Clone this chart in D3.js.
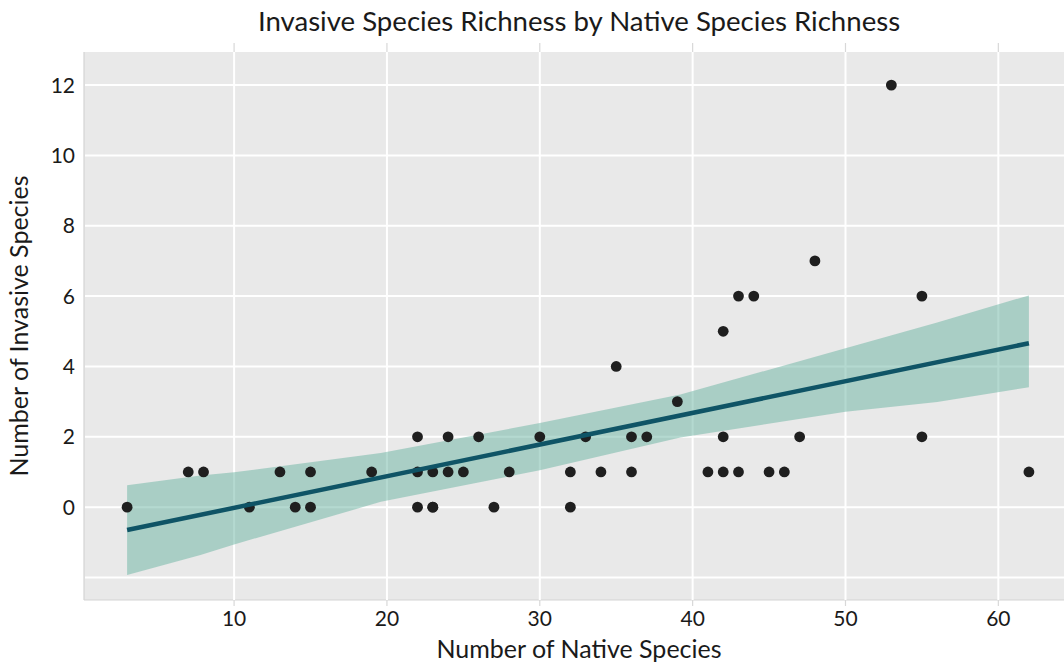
<!DOCTYPE html>
<html>
<head>
<meta charset="utf-8">
<script src="https://cdn.jsdelivr.net/npm/d3@7"></script>
<style>
  body { margin: 0; background: #fff; }
  text { font-family: Futura, "Century Gothic", Lato, sans-serif; fill: #1a1a1a; }
</style>
</head>
<body>
<div id="chart"></div>
<script>
// points: native species (x) vs invasive species (y)
const nativeCount = [3, 11, 14, 15, 22, 23, 23, 27, 32,
  7, 8, 13, 15, 19, 22, 23, 24, 25, 28, 32, 34, 36, 41, 42, 43, 45, 46, 62,
  22, 24, 26, 30, 33, 36, 37, 42, 47, 55,
  39, 35, 42, 43, 44, 55, 48, 53];
const invasiveCount = [0, 0, 0, 0, 0, 0, 0, 0, 0,
  1, 1, 1, 1, 1, 1, 1, 1, 1, 1, 1, 1, 1, 1, 1, 1, 1, 1, 1,
  2, 2, 2, 2, 2, 2, 2, 2, 2, 2,
  3, 4, 5, 6, 6, 6, 7, 12];

// fitted line and confidence band
const fitX = [3, 62];
const fitY = [-0.65, 4.66];
const bandX = [3, 7.8, 10, 19.6, 30, 39.2, 50, 56, 62];
const bandLow = [-1.93, -1.36, -1.06, 0.15, 1.05, 1.98, 2.71, 2.99, 3.41];
const bandHigh = [0.62, 0.9, 0.99, 1.54, 2.39, 3.2, 4.52, 5.25, 6.02];

const xTicks = [10, 20, 30, 40, 50, 60];
const yGrid = [-2, 0, 2, 4, 6, 8, 10, 12];
const yTicks = [0, 2, 4, 6, 8, 10, 12];

const w = 1064, h = 665;
const padL = 84, padR = 1074, padT = 52, padB = 600;

const svg = d3.select('#chart').append('svg')
  .attr('width', w).attr('height', h);

const x = d3.scaleLinear().domain([0.18, 64.95]).range([padL, padR]);
const y = d3.scaleLinear().domain([-2.64, 12.94]).range([padB, padT]);

// panel
svg.append('rect')
  .attr('x', padL).attr('y', padT)
  .attr('width', padR - padL).attr('height', padB - padT)
  .attr('fill', '#e9e9e9');

// border left / bottom
svg.append('line').attr('x1', padL).attr('x2', padL).attr('y1', padT).attr('y2', padB)
  .attr('stroke', '#d4d4d4').attr('stroke-width', 1.2);
svg.append('line').attr('x1', padL).attr('x2', padR).attr('y1', padB).attr('y2', padB)
  .attr('stroke', '#d4d4d4').attr('stroke-width', 1.2);

// grid
svg.append('g').selectAll('line').data(yGrid).enter().append('line')
  .attr('x1', padL + 1).attr('x2', padR)
  .attr('y1', d => y(d)).attr('y2', d => y(d))
  .attr('stroke', '#fff').attr('stroke-width', 2);
svg.append('g').selectAll('line').data(xTicks).enter().append('line')
  .attr('x1', d => x(d)).attr('x2', d => x(d))
  .attr('y1', padT).attr('y2', padB)
  .attr('stroke', '#fff').attr('stroke-width', 2);

// small ticks above and below the panel
svg.append('g').selectAll('line').data(xTicks).enter().append('line')
  .attr('x1', d => x(d)).attr('x2', d => x(d))
  .attr('y1', padT - 9).attr('y2', padT)
  .attr('stroke', '#d8d8d8').attr('stroke-width', 1.2);
svg.append('g').selectAll('line').data(xTicks).enter().append('line')
  .attr('x1', d => x(d)).attr('x2', d => x(d))
  .attr('y1', padB).attr('y2', padB + 6)
  .attr('stroke', '#d8d8d8').attr('stroke-width', 1.2);

// confidence band
const bandData = bandX.map((d, i) => ({ x: d, lo: bandLow[i], hi: bandHigh[i] }));
svg.append('path')
  .datum(bandData)
  .attr('d', d3.area().x(d => x(d.x)).y0(d => y(d.lo)).y1(d => y(d.hi)))
  .attr('fill', '#69b3a2').attr('fill-opacity', 0.5);

// points
const pts = nativeCount.map((d, i) => ({ x: d, y: invasiveCount[i] }));
svg.append('g').selectAll('circle').data(pts).enter().append('circle')
  .attr('cx', d => x(d.x)).attr('cy', d => y(d.y))
  .attr('r', 5.4)
  .attr('fill', '#1f1f1f');

// fitted line
svg.append('path')
  .datum(fitX.map((d, i) => ({ x: d, y: fitY[i] })))
  .attr('d', d3.line().x(d => x(d.x)).y(d => y(d.y)))
  .attr('fill', 'none')
  .attr('stroke', '#0f5466').attr('stroke-width', 4.5);

// tick labels
svg.append('g').selectAll('text').data(xTicks).enter().append('text')
  .attr('x', d => x(d)).attr('y', 626)
  .attr('text-anchor', 'middle')
  .style('font-size', '21px')
  .text(d => d);
svg.append('g').selectAll('text').data(yTicks).enter().append('text')
  .attr('x', 75).attr('y', d => y(d))
  .attr('dy', '0.36em')
  .attr('text-anchor', 'end')
  .style('font-size', '21px')
  .text(d => d);

// titles
svg.append('text')
  .attr('x', 579).attr('y', 31)
  .attr('text-anchor', 'middle')
  .style('font-size', '27.6px')
  .text('Invasive Species Richness by Native Species Richness');

svg.append('text')
  .attr('x', 579).attr('y', 658)
  .attr('text-anchor', 'middle')
  .style('font-size', '25px')
  .text('Number of Native Species');

svg.append('text')
  .attr('transform', 'translate(28,' + ((padT + padB) / 2) + ') rotate(-90)')
  .attr('text-anchor', 'middle')
  .style('font-size', '25px')
  .text('Number of Invasive Species');
</script>
</body>
</html>
